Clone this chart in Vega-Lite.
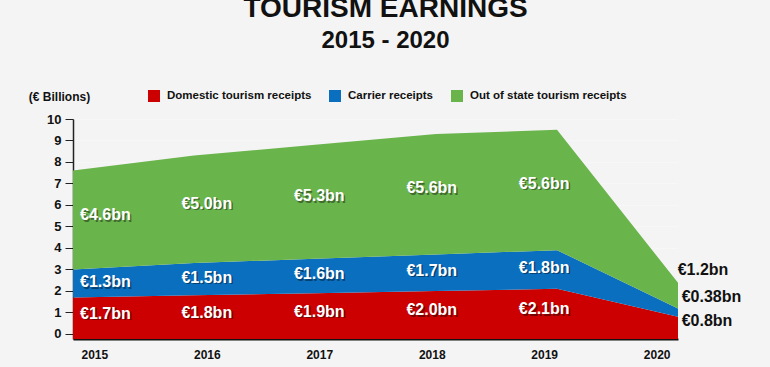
{
  "$schema": "https://vega.github.io/schema/vega-lite/v6.json",
  "width": 605,
  "height": 220,
  "autosize": {"type": "none"},
  "padding": {"left": 73, "top": 119, "right": 92, "bottom": 28},
  "background": "#f4f4f4",
  "config": {
    "font": "Liberation Sans",
    "view": {"stroke": null},
    "axisY": {
      "tickCount": 11,
      "labelOverlap": false,
      "labelFontSize": 13,
      "labelFontWeight": "bold",
      "labelColor": "#111111",
      "labelPadding": 4,
      "tickSize": 8,
      "tickColor": "#222222",
      "domainColor": "#222222",
      "domainWidth": 1.5,
      "grid": true,
      "gridColor": "#ffffff",
      "gridOpacity": 0.3,
      "zindex": 1
    }
  },
  "title": {
    "text": "TOURISM EARNINGS",
    "subtitle": "2015 - 2020",
    "fontSize": 28,
    "fontWeight": "bold",
    "color": "#111111",
    "subtitleFontSize": 24,
    "subtitleFontWeight": "bold",
    "subtitleColor": "#111111",
    "subtitlePadding": 6,
    "anchor": "middle",
    "offset": 37,
    "dx": 10
  },
  "data": {
    "values": [
      {"year": "2015", "series": "Domestic tourism receipts", "order": 1, "value": 1.7, "label": "€1.7bn"},
      {"year": "2016", "series": "Domestic tourism receipts", "order": 1, "value": 1.8, "label": "€1.8bn"},
      {"year": "2017", "series": "Domestic tourism receipts", "order": 1, "value": 1.9, "label": "€1.9bn"},
      {"year": "2018", "series": "Domestic tourism receipts", "order": 1, "value": 2.0, "label": "€2.0bn"},
      {"year": "2019", "series": "Domestic tourism receipts", "order": 1, "value": 2.1, "label": "€2.1bn"},
      {"year": "2020", "series": "Domestic tourism receipts", "order": 1, "value": 0.8, "label": "€0.8bn"},
      {"year": "2015", "series": "Carrier receipts", "order": 2, "value": 1.3, "label": "€1.3bn"},
      {"year": "2016", "series": "Carrier receipts", "order": 2, "value": 1.5, "label": "€1.5bn"},
      {"year": "2017", "series": "Carrier receipts", "order": 2, "value": 1.6, "label": "€1.6bn"},
      {"year": "2018", "series": "Carrier receipts", "order": 2, "value": 1.7, "label": "€1.7bn"},
      {"year": "2019", "series": "Carrier receipts", "order": 2, "value": 1.8, "label": "€1.8bn"},
      {"year": "2020", "series": "Carrier receipts", "order": 2, "value": 0.38, "label": "€0.38bn"},
      {"year": "2015", "series": "Out of state tourism receipts", "order": 3, "value": 4.6, "label": "€4.6bn"},
      {"year": "2016", "series": "Out of state tourism receipts", "order": 3, "value": 5.0, "label": "€5.0bn"},
      {"year": "2017", "series": "Out of state tourism receipts", "order": 3, "value": 5.3, "label": "€5.3bn"},
      {"year": "2018", "series": "Out of state tourism receipts", "order": 3, "value": 5.6, "label": "€5.6bn"},
      {"year": "2019", "series": "Out of state tourism receipts", "order": 3, "value": 5.6, "label": "€5.6bn"},
      {"year": "2020", "series": "Out of state tourism receipts", "order": 3, "value": 1.2, "label": "€1.2bn"}
    ]
  },
  "transform": [
    {"stack": "value", "groupby": ["year"], "sort": [{"field": "order", "order": "ascending"}], "as": ["v0", "v1"]},
    {"calculate": "datum.v0 == 0 ? -0.233 : datum.v0", "as": "vb"},
    {"calculate": "datum.v0 + 0.55 * (datum.v1 - datum.v0)", "as": "ly"}
  ],
  "layer": [
    {
      "mark": {"type": "area", "interpolate": "linear"},
      "encoding": {
        "x": {"field": "year", "type": "ordinal", "scale": {"type": "point", "padding": 0}, "axis": null},
        "y": {
          "field": "v1",
          "type": "quantitative",
          "scale": {"domain": [-0.233, 10], "nice": false, "zero": false},
          "axis": {
            "values": [0, 1, 2, 3, 4, 5, 6, 7, 8, 9, 10],
            "title": "(€ Billions)",
            "titleAngle": 0,
            "titleX": -14,
            "titleY": -23,
            "titleAlign": "center",
            "titleBaseline": "middle",
            "titleFontSize": 12,
            "titleFontWeight": "bold",
            "titleColor": "#111111"
          }
        },
        "y2": {"field": "vb"},
        "color": {
          "field": "series",
          "type": "nominal",
          "scale": {
            "domain": ["Domestic tourism receipts", "Carrier receipts", "Out of state tourism receipts"],
            "range": ["#cc0000", "#0a6fbf", "#6ab44c"]
          },
          "legend": {
            "orient": "none",
            "legendX": 75,
            "legendY": -29,
            "direction": "horizontal",
            "columns": 3,
            "title": null,
            "symbolType": "square",
            "symbolSize": 144,
            "symbolStrokeWidth": 0,
            "symbolOpacity": 1,
            "labelFontSize": 11.5,
            "labelFontWeight": "bold",
            "labelColor": "#111111",
            "labelLimit": 300,
            "labelOffset": 7,
            "columnPadding": 17,
            "padding": 0
          }
        }
      }
    },
    {
      "encoding": {
        "x": {
          "field": "year",
          "type": "ordinal",
          "scale": {"type": "point", "padding": 0.19, "domain": ["2015", "2016", "2017", "2018", "2019", "2020"]},
          "axis": {
            "title": null,
            "labelAngle": 0,
            "labelFontSize": 12,
            "labelFontWeight": "bold",
            "labelColor": "#111111",
            "ticks": false,
            "domainColor": "#111111",
            "domainWidth": 2,
            "labelPadding": 10,
            "grid": false
          }
        },
        "y": {"field": "ly", "type": "quantitative"},
        "text": {"field": "label"}
      },
      "layer": [
        {
          "transform": [{"filter": "datum.year == '2015'"}],
          "mark": {"type": "text", "color": "#000000", "opacity": 0.4, "fontSize": 16, "fontWeight": "bold", "dx": 12.5, "dy": 1.5}
        },
        {
          "transform": [{"filter": "datum.year == '2015'"}],
          "mark": {"type": "text", "color": "#ffffff", "fontSize": 16, "fontWeight": "bold", "dx": 11}
        },
        {
          "transform": [{"filter": "datum.year != '2015' && datum.year != '2020'"}],
          "mark": {"type": "text", "color": "#000000", "opacity": 0.4, "fontSize": 16, "fontWeight": "bold", "dx": 1.5, "dy": 1.5}
        },
        {
          "transform": [{"filter": "datum.year != '2015' && datum.year != '2020'"}],
          "mark": {"type": "text", "color": "#ffffff", "fontSize": 16, "fontWeight": "bold"}
        },
        {
          "transform": [{"filter": "datum.year == '2020' && datum.order == 3"}],
          "mark": {"type": "text", "color": "#111111", "fontSize": 16, "fontWeight": "bold", "align": "left", "dx": 21, "dy": -13},
          "encoding": {"y": {"field": "v1", "type": "quantitative"}}
        },
        {
          "transform": [{"filter": "datum.year == '2020' && datum.order == 2"}],
          "mark": {"type": "text", "color": "#111111", "fontSize": 16, "fontWeight": "bold", "align": "left", "dx": 25, "dy": -12},
          "encoding": {"y": {"field": "v1", "type": "quantitative"}}
        },
        {
          "transform": [{"filter": "datum.year == '2020' && datum.order == 1"}],
          "mark": {"type": "text", "color": "#111111", "fontSize": 16, "fontWeight": "bold", "align": "left", "dx": 25, "dy": 4},
          "encoding": {"y": {"field": "v1", "type": "quantitative"}}
        }
      ]
    }
  ],
  "resolve": {"scale": {"x": "independent"}}
}
